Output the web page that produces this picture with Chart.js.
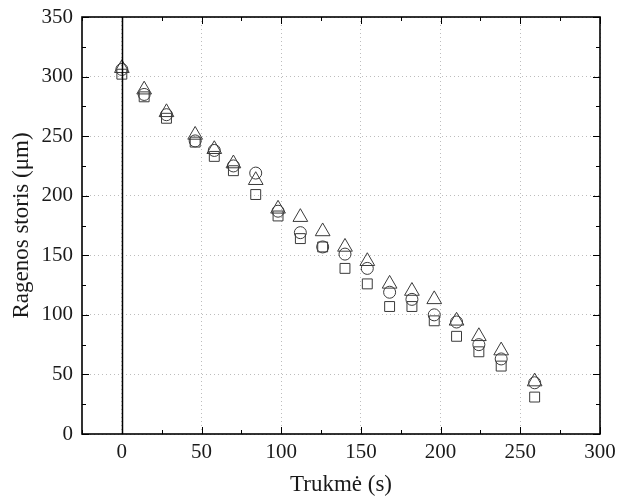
<!DOCTYPE html>
<html>
<head>
<meta charset="utf-8">
<script src="https://cdn.jsdelivr.net/npm/chart.js@4/dist/chart.umd.min.js"></script>
<style>
html,body{margin:0;padding:0;background:#fff;}
#wrap{width:623px;height:496px;}
</style>
</head>
<body>
<div id="wrap"><canvas id="c" width="623" height="496"></canvas></div>
<script>
const times = [0, 14, 28, 46, 58, 70, 84, 98, 112, 126, 140, 154, 168, 182, 196, 210, 224, 238, 259];
const seriesSquare = [302, 283, 265, 245, 233, 221, 201, 183, 164, 157, 139, 126, 107, 107, 95, 82, 69, 57, 31];
const seriesCircle = [306, 285, 268, 246, 238, 225, 219, 187, 169, 157, 151, 139, 119, 113, 100, 94, 75, 63, 43];
const seriesTriangle = [307, 289, 270, 251, 239, 227, 213, 189, 182, 170, 157, 145, 126, 120, 113, 95, 82, 70, 44];
const xTicks = [0, 50, 100, 150, 200, 250, 300];
const yTicks = [0, 50, 100, 150, 200, 250, 300, 350];
const xTitle = 'Trukmė (s)';
const yTitle = 'Ragenos storis (μm)';

function pts(ys){ return times.map((t,i)=>({x:t,y:ys[i]})); }

const FONT = "'Liberation Serif', 'Times New Roman', serif";
const INK = '#1a1a1a';

const boxPlugin = {
  id: 'boxTicks',
  afterDraw(chart){
    const {ctx, chartArea:a, scales:{x, y}} = chart;
    ctx.save();
    ctx.strokeStyle = '#000';
    ctx.lineWidth = 1.5;
    const x0 = Math.round(x.getPixelForValue(0)) + 0.5;
    ctx.beginPath(); ctx.moveTo(x0, a.top); ctx.lineTo(x0, a.bottom); ctx.stroke();
    ctx.lineWidth = 1.6;
    ctx.strokeRect(a.left, a.top, a.right - a.left, a.bottom - a.top);
    ctx.lineWidth = 1;
    ctx.beginPath();
    for (let v = x.min; v <= x.max + 0.01; v += 25) {
      const px = Math.round(x.getPixelForValue(v)) + 0.5;
      const len = (v % 50 === 0) ? 7 : 4;
      ctx.moveTo(px, a.bottom); ctx.lineTo(px, a.bottom - len);
      ctx.moveTo(px, a.top); ctx.lineTo(px, a.top + len);
    }
    for (let v = y.min; v <= y.max + 0.01; v += 25) {
      const py = Math.round(y.getPixelForValue(v)) + 0.5;
      const len = (v % 50 === 0) ? 7 : 4;
      ctx.moveTo(a.left, py); ctx.lineTo(a.left + len, py);
      ctx.moveTo(a.right, py); ctx.lineTo(a.right - len, py);
    }
    ctx.stroke();
    ctx.restore();
  }
};

const common = {
  backgroundColor: 'rgba(0,0,0,0)',
  borderColor: '#3a3a3a',
  borderWidth: 1,
  showLine: false
};

function zeroPad(s){ s.paddingTop = 0; s.paddingBottom = 0; s.paddingLeft = 0; s.paddingRight = 0; }

new Chart(document.getElementById('c'), {
  type: 'scatter',
  data: {
    datasets: [
      Object.assign({label:'A', data: pts(seriesSquare), pointStyle:'rect', pointRadius:7}, common),
      Object.assign({label:'B', data: pts(seriesCircle), pointStyle:'circle', pointRadius:6}, common),
      Object.assign({label:'C', data: pts(seriesTriangle), pointStyle:'triangle', pointRadius:8.5}, common)
    ]
  },
  options: {
    responsive: false,
    animation: false,
    events: [],
    layout: { padding: { top: 17, right: 23, left: 0, bottom: 0 } },
    plugins: { legend: { display: false }, tooltip: { enabled: false } },
    scales: {
      x: {
        type: 'linear', min: -25, max: 300,
        afterBuildTicks(s){ s.ticks = xTicks.map(v=>({value:v})); },
        afterFit(s){ s.height = 62; zeroPad(s); },
        border: { display: false, dash: [1, 3] },
        grid: { color: '#bdbdbd', lineWidth: 1, drawTicks: false },
        ticks: { color: INK, font: { family: FONT, size: 21 }, padding: 6, maxRotation: 0 },
        title: { display: true, text: xTitle, color: INK, font: { family: FONT, size: 23 }, padding: { top: 0, bottom: -3 } }
      },
      y: {
        type: 'linear', min: 0, max: 350,
        afterBuildTicks(s){ s.ticks = yTicks.map(v=>({value:v})); },
        afterFit(s){ s.width = 82; zeroPad(s); },
        border: { display: false, dash: [1, 3] },
        grid: { color: '#bdbdbd', lineWidth: 1, drawTicks: false },
        ticks: { color: INK, font: { family: FONT, size: 21 }, padding: 9 },
        title: { display: true, text: yTitle, color: INK, font: { family: FONT, size: 23 }, padding: { top: 8, bottom: 0 } }
      }
    }
  },
  plugins: [boxPlugin]
});
</script>
</body>
</html>
